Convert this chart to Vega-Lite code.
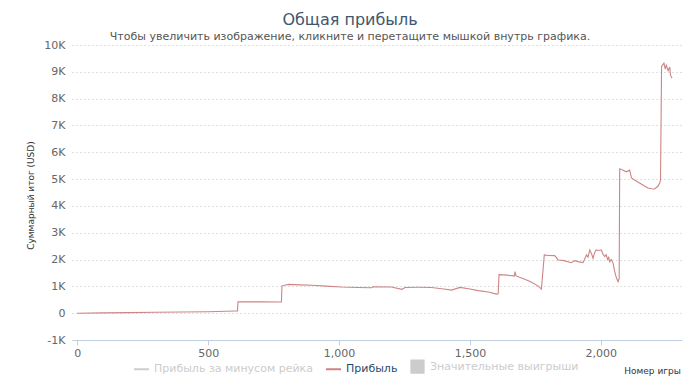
{
  "$schema": "https://vega.github.io/schema/vega-lite/v6.json",
  "width": 610,
  "height": 295,
  "autosize": {"type": "none"},
  "padding": {"left": 72, "top": 45, "right": 18, "bottom": 49},
  "background": "white",
  "title": {
    "text": "Общая прибыль",
    "subtitle": "Чтобы увеличить изображение, кликните и перетащите мышкой внутрь графика.",
    "anchor": "middle",
    "frame": "group",
    "dx": -27,
    "offset": -3,
    "font": "DejaVu Sans",
    "fontSize": 16,
    "fontWeight": "normal",
    "color": "#3E576F",
    "subtitleFont": "DejaVu Sans",
    "subtitleFontSize": 11,
    "subtitleColor": "#555555",
    "subtitlePadding": 3
  },
  "data": {
    "values": [
      {"game": 0, "profit": 0},
      {"game": 100, "profit": 10},
      {"game": 200, "profit": 20},
      {"game": 300, "profit": 35},
      {"game": 400, "profit": 45},
      {"game": 500, "profit": 55},
      {"game": 600, "profit": 80},
      {"game": 612, "profit": 85},
      {"game": 614, "profit": 420},
      {"game": 700, "profit": 420},
      {"game": 780, "profit": 418},
      {"game": 782, "profit": 1020},
      {"game": 800, "profit": 1060},
      {"game": 808, "profit": 1075},
      {"game": 850, "profit": 1055},
      {"game": 897, "profit": 1040},
      {"game": 950, "profit": 1010},
      {"game": 1010, "profit": 975},
      {"game": 1070, "profit": 960},
      {"game": 1125, "profit": 948},
      {"game": 1130, "profit": 985},
      {"game": 1200, "profit": 975},
      {"game": 1240, "profit": 890},
      {"game": 1252, "profit": 960},
      {"game": 1300, "profit": 965},
      {"game": 1353, "profit": 960},
      {"game": 1400, "profit": 900},
      {"game": 1430, "profit": 862},
      {"game": 1462, "profit": 962},
      {"game": 1500, "profit": 900},
      {"game": 1532, "profit": 840},
      {"game": 1570, "profit": 790},
      {"game": 1602, "profit": 712},
      {"game": 1608, "profit": 720},
      {"game": 1611, "profit": 1435},
      {"game": 1640, "profit": 1420},
      {"game": 1665, "profit": 1390},
      {"game": 1670, "profit": 1390},
      {"game": 1672, "profit": 1550},
      {"game": 1676, "profit": 1390},
      {"game": 1700, "profit": 1300},
      {"game": 1730, "profit": 1180},
      {"game": 1761, "profit": 1010},
      {"game": 1773, "profit": 900},
      {"game": 1784, "profit": 2172},
      {"game": 1800, "profit": 2150},
      {"game": 1824, "profit": 2147},
      {"game": 1837, "profit": 1985},
      {"game": 1860, "profit": 1960},
      {"game": 1887, "profit": 1884},
      {"game": 1900, "profit": 1960},
      {"game": 1913, "profit": 1922},
      {"game": 1932, "profit": 1884},
      {"game": 1945, "profit": 2172},
      {"game": 1951, "profit": 2090},
      {"game": 1958, "profit": 2360},
      {"game": 1965, "profit": 2200},
      {"game": 1970, "profit": 2048},
      {"game": 1976, "profit": 2250},
      {"game": 1982, "profit": 2360},
      {"game": 1990, "profit": 2340},
      {"game": 2002, "profit": 2355},
      {"game": 2008, "profit": 2200},
      {"game": 2015, "profit": 2110},
      {"game": 2020, "profit": 2180},
      {"game": 2026, "profit": 2000},
      {"game": 2030, "profit": 2080},
      {"game": 2034, "profit": 1922},
      {"game": 2040, "profit": 2000},
      {"game": 2047, "profit": 1860},
      {"game": 2053, "profit": 1547},
      {"game": 2060, "profit": 1300},
      {"game": 2066, "profit": 1172},
      {"game": 2070, "profit": 1300},
      {"game": 2072, "profit": 5382},
      {"game": 2085, "profit": 5333},
      {"game": 2097, "profit": 5270},
      {"game": 2110, "profit": 5333},
      {"game": 2117, "profit": 5045},
      {"game": 2130, "profit": 4960},
      {"game": 2148, "profit": 4857},
      {"game": 2165, "profit": 4750},
      {"game": 2180, "profit": 4670},
      {"game": 2195, "profit": 4640},
      {"game": 2205, "profit": 4632},
      {"game": 2218, "profit": 4732},
      {"game": 2225, "profit": 4850},
      {"game": 2228, "profit": 4981},
      {"game": 2232, "profit": 9200},
      {"game": 2241, "profit": 9326},
      {"game": 2246, "profit": 9100},
      {"game": 2250, "profit": 9250},
      {"game": 2257, "profit": 9040},
      {"game": 2263, "profit": 9180},
      {"game": 2266, "profit": 8876},
      {"game": 2272, "profit": 8760}
    ]
  },
  "mark": {"type": "line", "strokeWidth": 1.1, "interpolate": "linear"},
  "encoding": {
    "x": {
      "field": "game",
      "type": "quantitative",
      "scale": {"domain": [-20, 2310], "nice": false, "zero": false},
      "axis": {
        "title": "Номер игры",
        "titleX": 580,
        "titleY": 30,
        "titleAlign": "center",
        "titleBaseline": "middle",
        "titleFont": "DejaVu Sans",
        "titleFontSize": 9,
        "titleFontWeight": "normal",
        "titleColor": "#333333",
        "values": [0, 500, 1000, 1500, 2000],
        "format": ",d",
        "labelFont": "DejaVu Sans",
        "labelFontSize": 11,
        "labelColor": "#666666",
        "labelPadding": 2,
        "domainColor": "#C0D0E0",
        "tickColor": "#C0D0E0",
        "tickSize": 5,
        "grid": false
      }
    },
    "y": {
      "field": "profit",
      "type": "quantitative",
      "scale": {"domain": [-1000, 10000], "nice": false},
      "axis": {
        "title": "Суммарный итог (USD)",
        "titleX": -42,
        "titleY": 150,
        "titleAlign": "center",
        "titleBaseline": "middle",
        "titleFont": "DejaVu Sans",
        "titleFontSize": 9,
        "titleFontWeight": "normal",
        "titleColor": "#333333",
        "values": [-1000, 0, 1000, 2000, 3000, 4000, 5000, 6000, 7000, 8000, 9000, 10000],
        "labelExpr": "datum.value == 0 ? '0' : (datum.value / 1000) + 'K'",
        "labelFont": "DejaVu Sans",
        "labelFontSize": 11,
        "labelColor": "#666666",
        "labelPadding": 7,
        "domain": false,
        "ticks": false,
        "grid": true,
        "gridColor": "#C0C0C0",
        "gridDash": [1, 3],
        "gridWidth": 1
      }
    },
    "color": {
      "datum": "Прибыль",
      "type": "nominal",
      "scale": {
        "domain": ["Прибыль за минусом рейка", "Прибыль", "Значительные выигрыши"],
        "range": ["#CCCCCC", "#CD8585", "#CCCCCC"]
      },
      "legend": {
        "orient": "none",
        "legendX": 61,
        "legendY": 313,
        "direction": "horizontal",
        "title": null,
        "symbolType": "stroke",
        "symbolSize": 225,
        "symbolStrokeWidth": 2,
        "labelFont": "DejaVu Sans",
        "labelFontSize": 11,
        "labelLimit": 400,
        "labelOffset": 4,
        "columnPadding": 9,
        "encode": {
          "labels": {
            "update": {
              "fill": {"signal": "datum.value === 'Прибыль' ? '#274B6D' : '#CCCCCC'"}
            }
          },
          "symbols": {
            "update": {
              "shape": {"signal": "datum.value === 'Значительные выигрыши' ? 'square' : 'stroke'"},
              "fill": {"signal": "datum.value === 'Значительные выигрыши' ? '#CCCCCC' : 'transparent'"},
              "size": {"signal": "datum.value === 'Значительные выигрыши' ? 150 : 225"}
            }
          }
        }
      }
    }
  },
  "config": {
    "view": {"stroke": null}
  }
}
